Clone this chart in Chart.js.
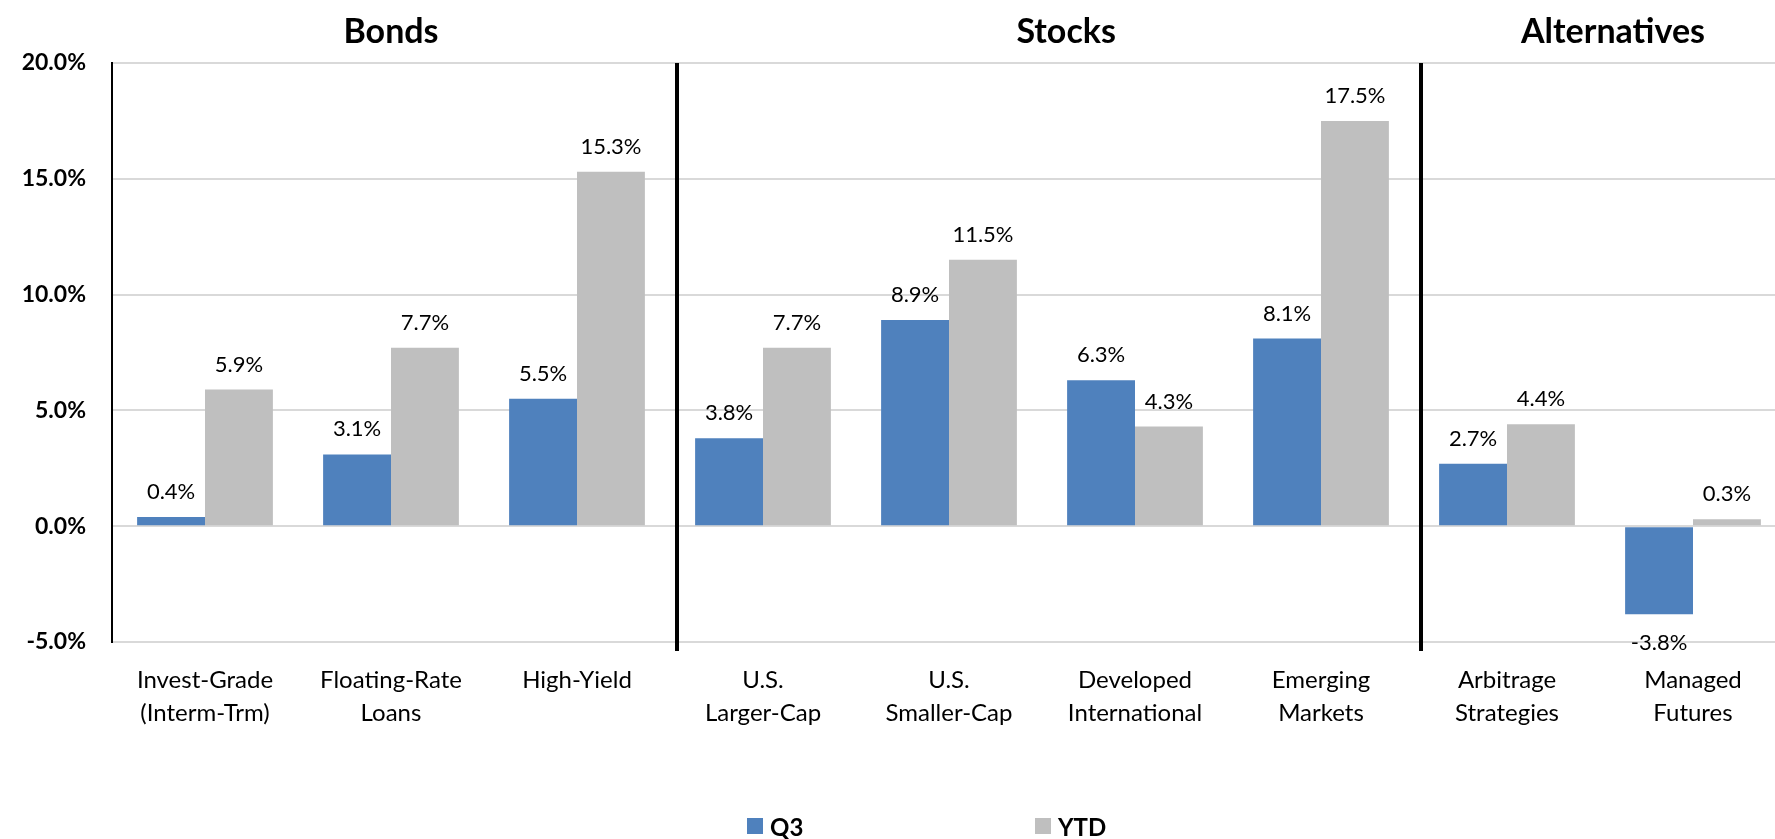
<!DOCTYPE html>
<html>
<head>
<meta charset="utf-8">
<script src="https://cdn.jsdelivr.net/npm/chart.js@4.4.1/dist/chart.umd.min.js"></script>
<style>
  html, body { margin: 0; padding: 0; background: #fff; overflow: hidden; }
  #wrap { position: relative; width: 1775px; height: 839px; overflow: hidden; }
  #box { position: absolute; left: 0; top: 0; width: 1790px; height: 839px; }
  .leg { position: absolute; top: 812px; display: flex; align-items: center; font-family: Lato, sans-serif; font-weight: 700; font-size: 24px; color: #000; height: 28px; }
  .leg span.sw { display: inline-block; width: 16px; height: 16px; margin-right: 7px; }
</style>
</head>
<body>
<div id="wrap">
  <div id="box"><canvas id="c" width="1790" height="839"></canvas></div>
</div>
<script>
// ---- data ----
const categories = [
  ["Invest-Grade", "(Interm-Trm)"],
  ["Floating-Rate", "Loans"],
  ["High-Yield"],
  ["U.S.", "Larger-Cap"],
  ["U.S.", "Smaller-Cap"],
  ["Developed", "International"],
  ["Emerging", "Markets"],
  ["Arbitrage", "Strategies"],
  ["Managed", "Futures"]
];
const q3Values  = [0.4, 3.1, 5.5, 3.8, 8.9, 6.3, 8.1, 2.7, -3.8];
const ytdValues = [5.9, 7.7, 15.3, 7.7, 11.5, 4.3, 17.5, 4.4, 0.3];
const seriesNames = ["Q3", "YTD"];
const seriesColors = ["#4F81BD", "#BFBFBF"];
const yTicks = [-5, 0, 5, 10, 15, 20];
// section headers: label and position in category units
const sectionNames = ["Bonds", "Stocks", "Alternatives"];
const sectionCenters = [1.0, 4.63, 7.57];
// separators between categories (after index)
const separatorsAfter = [2, 6];

// ---- plugins ----
const labelPlugin = {
  id: 'barLabels',
  afterDatasetsDraw(chart) {
    const ctx = chart.ctx;
    ctx.save();
    ctx.font = '22px Lato, sans-serif';
    ctx.fillStyle = '#000';
    ctx.textAlign = 'center';
    ctx.textBaseline = 'middle';
    chart.data.datasets.forEach((ds, di) => {
      const meta = chart.getDatasetMeta(di);
      meta.data.forEach((el, i) => {
        const v = ds.data[i];
        const y = v >= 0 ? el.y - 25 : el.y + 29;
        ctx.fillText(v.toFixed(1) + '%', el.x, y);
      });
    });
    ctx.restore();
  }
};

const decorPlugin = {
  id: 'decor',
  afterDraw(chart) {
    const ctx = chart.ctx;
    const xs = chart.scales.x;
    const area = chart.chartArea;
    ctx.save();
    // separators
    ctx.strokeStyle = '#000';
    ctx.lineWidth = 4;
    separatorsAfter.forEach(idx => {
      const a = xs.getPixelForValue(idx), b = xs.getPixelForValue(idx + 1);
      const x = (a + b) / 2 + 7;
      ctx.beginPath();
      ctx.moveTo(x, area.top);
      ctx.lineTo(x, area.bottom + 9);
      ctx.stroke();
    });
    // section titles
    ctx.font = 'bold 34px Lato, sans-serif';
    ctx.fillStyle = '#000';
    ctx.textAlign = 'center';
    ctx.textBaseline = 'alphabetic';
    sectionNames.forEach((name, i) => {
      ctx.fillText(name, xs.getPixelForValue(sectionCenters[i]), 43);
    });
    ctx.restore();
  }
};

const chart = new Chart(document.getElementById('c'), {
  type: 'bar',
  data: {
    labels: categories,
    datasets: [
      { label: seriesNames[0], data: q3Values, backgroundColor: seriesColors[0], borderWidth: 0 },
      { label: seriesNames[1], data: ytdValues, backgroundColor: seriesColors[1], borderWidth: 0 }
    ]
  },
  options: {
    responsive: false,
    animation: false,
    devicePixelRatio: 1,
    layout: { padding: { top: 63, right: 4, bottom: 97, left: 0 } },
    plugins: {
      legend: { display: false },
      tooltip: { enabled: false },
      title: { display: false }
    },
    datasets: { bar: { categoryPercentage: 0.73, barPercentage: 1.0 } },
    scales: {
      x: {
        grid: { display: false, drawTicks: false },
        border: { display: false },
        ticks: {
          color: '#000',
          font: { family: 'Lato, sans-serif', size: 24, lineHeight: 1.38 },
          padding: 22,
          maxRotation: 0,
          autoSkip: false
        },
        afterFit(s) { s.height = 100; }
      },
      y: {
        min: -5, max: 20,
        afterBuildTicks(s) { s.ticks = yTicks.map(v => ({ value: v })); },
        grid: { color: '#D9D9D9', lineWidth: 2, drawTicks: false },
        border: { display: true, color: '#000', width: 2 },
        ticks: {
          color: '#000',
          font: { family: 'Lato, sans-serif', size: 23, weight: 'bold' },
          padding: 26,
          callback: v => v.toFixed(1) + '%'
        },
        afterFit(s) { s.width = 112; }
      }
    }
  },
  plugins: [labelPlugin, decorPlugin]
});

// ---- HTML legend built from the series ----
const legendX = [747, 1035];
const wrap = document.getElementById('wrap');
seriesNames.forEach((name, i) => {
  const d = document.createElement('div');
  d.className = 'leg';
  d.style.left = legendX[i] + 'px';
  const sw = document.createElement('span');
  sw.className = 'sw';
  sw.style.background = seriesColors[i];
  d.appendChild(sw);
  d.appendChild(document.createTextNode(name));
  wrap.appendChild(d);
});
</script>
</body>
</html>
